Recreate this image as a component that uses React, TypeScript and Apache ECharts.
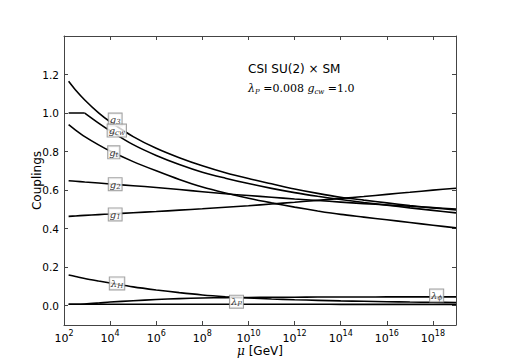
import React, { useEffect, useRef } from 'react';
import * as echarts from 'echarts';

// log10(mu / GeV)
const muExp = [2.2, 2.5, 2.9, 3.5, 4, 5, 6, 7, 8, 9, 10, 11, 12, 13, 14, 15, 16, 17, 18, 19];
const g3 = [1.165, 1.12, 1.068, 1.001, 0.955, 0.878, 0.817, 0.768, 0.726, 0.69, 0.66, 0.633, 0.606, 0.583, 0.563, 0.548, 0.534, 0.52, 0.508, 0.497];
const gcw = [1.0, 1.0, 1.0, 0.948, 0.908, 0.836, 0.78, 0.733, 0.693, 0.662, 0.634, 0.609, 0.587, 0.568, 0.551, 0.536, 0.522, 0.508, 0.495, 0.482];
const gt = [0.94, 0.912, 0.878, 0.835, 0.803, 0.748, 0.7, 0.655, 0.616, 0.585, 0.558, 0.534, 0.512, 0.492, 0.474, 0.46, 0.446, 0.432, 0.418, 0.404];
const g2 = [0.649, 0.646, 0.642, 0.637, 0.632, 0.623, 0.614, 0.603, 0.592, 0.581, 0.572, 0.563, 0.554, 0.546, 0.538, 0.53, 0.523, 0.516, 0.509, 0.502];
const g1 = [0.464, 0.466, 0.469, 0.473, 0.476, 0.483, 0.489, 0.496, 0.503, 0.511, 0.519, 0.528, 0.537, 0.547, 0.557, 0.567, 0.578, 0.589, 0.6, 0.61];
const lambdaH = [0.16, 0.152, 0.141, 0.128, 0.118, 0.098, 0.082, 0.068, 0.056, 0.047, 0.04, 0.035, 0.031, 0.028, 0.025, 0.023, 0.021, 0.019, 0.018, 0.017];
const lambdaPhi = [0.008, 0.008, 0.009, 0.014, 0.019, 0.026, 0.032, 0.037, 0.04, 0.042, 0.043, 0.044, 0.044, 0.045, 0.045, 0.045, 0.046, 0.046, 0.046, 0.046];
const lambdaP = [0.008, 0.008, 0.008, 0.008, 0.008, 0.008, 0.008, 0.008, 0.008, 0.008, 0.008, 0.008, 0.008, 0.008, 0.007, 0.007, 0.007, 0.007, 0.007, 0.007];
// index in muExp where g_cw leaves its flat start
const gcwKink = 2;

const xTickExps = [2, 4, 6, 8, 10, 12, 14, 16, 18];
const yTicks = [0, 0.2, 0.4, 0.6, 0.8, 1.0, 1.2];

// curve tags (rich text), anchored at data coordinates
const tagTexts = ['{i|g}{s|3}', '{i|g}{s|cw}', '{i|g}{s|t}', '{i|g}{s|2}', '{i|g}{s|1}', '{i|λ}{s|H}', '{i|λ}{s|P}', '{i|λ}{s|ϕ}'];
const tagX = [4.22, 4.29, 4.16, 4.22, 4.22, 4.3, 9.48, 18.16];
const tagY = [0.966, 0.909, 0.796, 0.631, 0.474, 0.116, 0.021, 0.053];

const FRAME = '#444';

export default function App() {
  const ref = useRef<HTMLDivElement>(null);
  useEffect(() => {
    document.body.style.margin = '0';
    const chart = echarts.init(ref.current!, null, { renderer: 'svg' });
    const pts = (arr: number[]) => muExp.map((e, i) => [e, arr[i]]);
    const lines: { name: string; data: number[][] }[] = [
      { name: 'g3', data: pts(g3) },
      { name: 'gcw-flat', data: pts(gcw).slice(0, gcwKink + 1) },
      { name: 'gcw', data: pts(gcw).slice(gcwKink) },
      { name: 'gt', data: pts(gt) },
      { name: 'g2', data: pts(g2) },
      { name: 'g1', data: pts(g1) },
      { name: 'lambdaH', data: pts(lambdaH) },
      { name: 'lambdaPhi', data: pts(lambdaPhi) },
      { name: 'lambdaP', data: pts(lambdaP) },
    ];
    const mathRich = {
      i: { fontFamily: 'DejaVu Serif', fontStyle: 'italic', fontSize: 10, lineHeight: 12, color: '#000' },
      s: { fontFamily: 'DejaVu Serif', fontStyle: 'italic', fontSize: 7, lineHeight: 7, verticalAlign: 'bottom', color: '#000' },
    };
    const frameAxis = {
      axisLine: { show: true, onZero: false, lineStyle: { color: FRAME, width: 1 } },
      splitLine: { show: false },
    };
    const option: any = {
      animation: false,
      grid: { left: 64, top: 36, width: 392, height: 289 },
      xAxis: [
        {
          type: 'value', min: 2, max: 19, interval: 2, position: 'bottom',
          ...frameAxis,
          axisTick: { show: true, inside: true, length: 4, customValues: xTickExps, lineStyle: { color: FRAME } },
          axisLabel: {
            customValues: xTickExps, margin: 4,
            formatter: (v: number) => `{b|10}{p|${Math.round(v)}}`,
            rich: {
              b: { fontFamily: 'DejaVu Sans', fontSize: 11, lineHeight: 15, verticalAlign: 'bottom', color: '#000' },
              p: { fontFamily: 'DejaVu Sans', fontSize: 8, lineHeight: 15, verticalAlign: 'top', color: '#000' },
            },
          },
          name: '{m|μ} [GeV]', nameLocation: 'middle', nameGap: 20, nameMoveOverlap: false,
          nameTextStyle: {
            fontFamily: 'DejaVu Sans', fontSize: 12, color: '#000',
            rich: { m: { fontFamily: 'DejaVu Serif', fontStyle: 'italic', fontSize: 12, color: '#000' } },
          },
        },
        {
          type: 'value', min: 2, max: 19, interval: 2, position: 'top',
          ...frameAxis,
          axisTick: { show: true, inside: true, length: 4, customValues: xTickExps, lineStyle: { color: FRAME } },
          axisLabel: { show: false },
        },
      ],
      yAxis: [
        {
          type: 'value', min: -0.1, max: 1.4, interval: 0.1, position: 'left',
          ...frameAxis,
          axisTick: { show: true, inside: true, length: 4, customValues: yTicks, lineStyle: { color: FRAME } },
          axisLabel: {
            customValues: yTicks, margin: 5,
            formatter: (v: number) => v.toFixed(1),
            fontFamily: 'DejaVu Sans', fontSize: 10.5, color: '#000',
          },
          name: 'Couplings', nameLocation: 'middle', nameGap: 21, nameMoveOverlap: false,
          nameTextStyle: { fontFamily: 'DejaVu Sans', fontSize: 12, color: '#000' },
        },
        {
          type: 'value', min: -0.1, max: 1.4, interval: 0.1, position: 'right',
          ...frameAxis,
          axisTick: { show: true, inside: true, length: 4, customValues: yTicks, lineStyle: { color: FRAME } },
          axisLabel: { show: false },
        },
      ],
      series: [
        ...lines.map((l) => ({
          name: l.name,
          type: 'line',
          xAxisIndex: 0, yAxisIndex: 0,
          data: l.data,
          smooth: 0.3,
          showSymbol: false,
          symbol: 'none',
          lineStyle: { color: '#000', width: 1.6 },
          z: 2,
        })),
        {
          name: 'tags',
          type: 'scatter',
          xAxisIndex: 0, yAxisIndex: 0,
          symbolSize: 0,
          z: 5,
          data: tagTexts.map((t, i) => ({ value: [tagX[i], tagY[i]], text: t })),
          label: {
            show: true,
            position: 'inside',
            formatter: (p: any) => p.data.text,
            backgroundColor: '#fff',
            borderColor: '#888',
            borderWidth: 1,
            padding: [0, 1, 0, 1],
            rich: mathRich,
          },
        },
      ],
      graphic: [
        {
          type: 'text', left: 248, top: 63,
          style: { text: 'CSI SU(2) × SM', font: '12px "DejaVu Sans"', fill: '#000' },
        },
        {
          type: 'text', left: 248, top: 83,
          style: {
            text: '{i|λ}{s|P}{r| =0.008 }{i|g}{s|cw}{r| =1.0}',
            rich: {
              i: { fontFamily: 'DejaVu Serif', fontStyle: 'italic', fontSize: 11, lineHeight: 14, fill: '#000' },
              s: { fontFamily: 'DejaVu Serif', fontStyle: 'italic', fontSize: 7, lineHeight: 8, verticalAlign: 'bottom', fill: '#000' },
              r: { fontFamily: 'DejaVu Serif', fontSize: 11, lineHeight: 14, fill: '#000' },
            },
          },
        },
      ],
    };
    chart.setOption(option);
    return () => chart.dispose();
  }, []);
  return <div ref={ref} style={{ width: 507, height: 362 }} />;
}
